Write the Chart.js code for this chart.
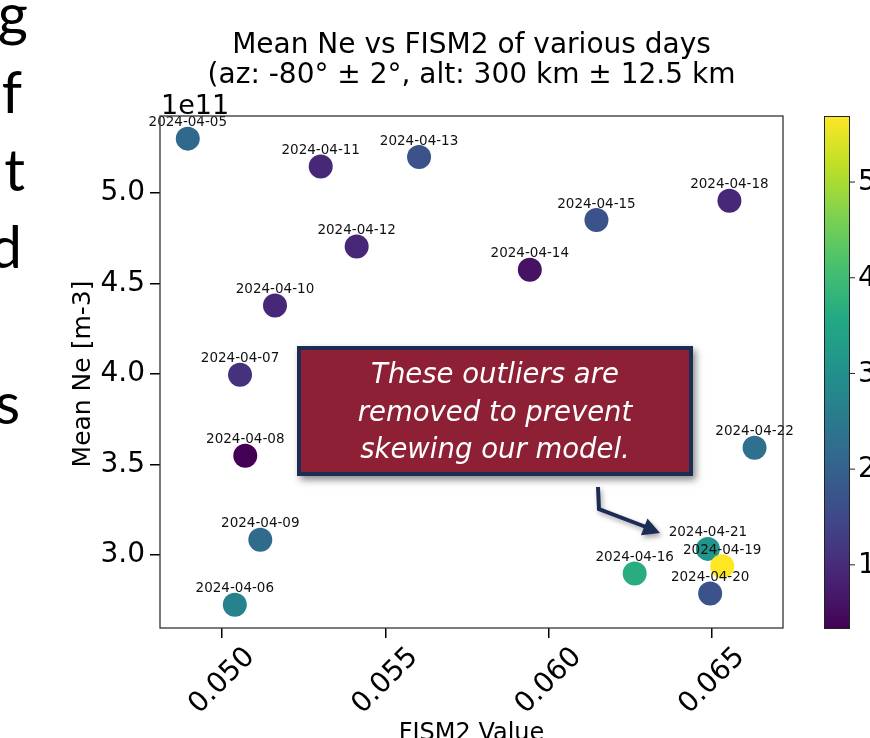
<!DOCTYPE html>
<html>
<head>
<meta charset="utf-8">
<script src="https://cdn.jsdelivr.net/npm/chart.js@4.4.1/dist/chart.umd.min.js"></script>
<style>
html, body { margin: 0; padding: 0; background: #fff; overflow: hidden; }
#wrap { position: relative; width: 870px; height: 738px; }
</style>
</head>
<body>
<div id="wrap"><canvas id="chart" width="870" height="738"></canvas></div>
<script>
// values
const dates = ['2024-04-05', '2024-04-06', '2024-04-07', '2024-04-08', '2024-04-09', '2024-04-10',
	'2024-04-11', '2024-04-12', '2024-04-13', '2024-04-14', '2024-04-15', '2024-04-16',
	'2024-04-18', '2024-04-20', '2024-04-21', '2024-04-19', '2024-04-22'];
const fism2 = [0.04895, 0.05039, 0.05055, 0.05071, 0.05117, 0.05162,
	0.05302, 0.05412, 0.05603, 0.05942, 0.06146, 0.06263,
	0.06553, 0.06494, 0.06487, 0.06531, 0.06630];
const meanNe = [5.300e11, 2.725e11, 3.996e11, 3.548e11, 3.084e11, 4.378e11,
	5.146e11, 4.704e11, 5.198e11, 4.576e11, 4.850e11, 2.898e11,
	4.957e11, 2.787e11, 3.034e11, 2.938e11, 3.592e11];
const colorVals = [2.16, 2.70, 1.10, 0.34, 2.20, 0.95,
	0.95, 0.95, 1.68, 0.60, 1.68, 3.66,
	0.95, 1.68, 3.10, 5.69, 2.30];

const xTicks = [0.050, 0.055, 0.060, 0.065];
const yTicks = [3.0e11, 3.5e11, 4.0e11, 4.5e11, 5.0e11];
const cbarTicks = [1, 2, 3, 4, 5];
const cbarMin = 0.34, cbarMax = 5.69;

const titleLines = ['Mean Ne vs FISM2 of various days', '(az: -80\u00b0 \u00b1 2\u00b0, alt: 300 km \u00b1 12.5 km'];
const noteLines = ['These outliers are', 'removed to prevent', 'skewing our model.'];
const slideBits = [['g', 28, 35], ['f', 22, 113], ['t', 25, 191], ['d', 22, 268], ['s', 20, 424]];

// viridis colormap
const viridisStops = ['#440154', '#482475', '#414487', '#355f8d', '#2a788e', '#21918c',
	'#22a884', '#44bf70', '#7ad151', '#bddf26', '#fde725'];
function hexRgb(h) {
	return [parseInt(h.slice(1, 3), 16), parseInt(h.slice(3, 5), 16), parseInt(h.slice(5, 7), 16)];
}
function viridis(t) {
	t = Math.max(0, Math.min(1, t));
	const f = t * (viridisStops.length - 1);
	const i = Math.min(Math.floor(f), viridisStops.length - 2);
	const a = hexRgb(viridisStops[i]), b = hexRgb(viridisStops[i + 1]);
	const k = f - i;
	const c = a.map((v, j) => Math.round(v + (b[j] - v) * k));
	return `rgb(${c[0]},${c[1]},${c[2]})`;
}
const norm = v => (v - cbarMin) / (cbarMax - cbarMin);

const FONT = '"DejaVu Sans", sans-serif';

const decor = {
	id: 'decor',
	beforeDraw(chart) {
		const ctx = chart.ctx;
		ctx.save();
		ctx.fillStyle = '#fff';
		ctx.fillRect(0, 0, chart.width, chart.height);
		ctx.restore();
	},
	afterDatasetsDraw(chart) {
		const ctx = chart.ctx;
		const a = chart.chartArea;
		const xs = chart.scales.x;
		const meta = chart.getDatasetMeta(0);
		ctx.save();

		// point labels
		ctx.fillStyle = '#111';
		ctx.font = `13.5px ${FONT}`;
		ctx.textAlign = 'center';
		ctx.textBaseline = 'middle';
		meta.data.forEach((pt, i) => ctx.fillText(dates[i], pt.x, pt.y - 16));

		// frame
		ctx.strokeStyle = '#333';
		ctx.lineWidth = 1.3;
		ctx.strokeRect(a.left, a.top, a.right - a.left, a.bottom - a.top);

		// x tick labels, rotated and centred on the tick
		ctx.fillStyle = '#000';
		ctx.font = `28px ${FONT}`;
		xTicks.forEach(v => {
			const px = xs.getPixelForValue(v);
			ctx.save();
			ctx.translate(px, 681);
			ctx.rotate(-Math.PI / 4);
			ctx.fillText(v.toFixed(3), 0, 0);
			ctx.restore();
		});

		// axis titles
		ctx.font = `24px ${FONT}`;
		ctx.textBaseline = 'top';
		ctx.fillText('FISM2 Value', (a.left + a.right) / 2, 722);
		ctx.save();
		ctx.translate(83, 374);
		ctx.rotate(-Math.PI / 2);
		ctx.textBaseline = 'middle';
		ctx.font = `25px ${FONT}`;
		ctx.fillText('Mean Ne [m-3]', 0, 0);
		ctx.restore();

		// title
		ctx.font = `28px ${FONT}`;
		ctx.textBaseline = 'middle';
		titleLines.forEach((t, i) => ctx.fillText(t, (a.left + a.right) / 2, 46 + i * 30));

		// offset text
		ctx.textAlign = 'left';
		ctx.textBaseline = 'alphabetic';
		ctx.font = `27px ${FONT}`;
		ctx.fillText('1e11', a.left + 1, 114);

		// colorbar
		const cbL = 824, cbR = 849, cbT = a.top, cbB = a.bottom;
		const g = ctx.createLinearGradient(0, cbB, 0, cbT);
		for (let i = 0; i <= 20; i++) g.addColorStop(i / 20, viridis(i / 20));
		ctx.fillStyle = g;
		ctx.fillRect(cbL, cbT, cbR - cbL, cbB - cbT);
		ctx.strokeStyle = '#222';
		ctx.lineWidth = 1;
		ctx.strokeRect(cbL + 0.5, cbT + 0.5, cbR - cbL, cbB - cbT);
		ctx.fillStyle = '#000';
		ctx.font = `28px ${FONT}`;
		ctx.textBaseline = 'middle';
		cbarTicks.forEach(v => {
			const y = cbB - norm(v) * (cbB - cbT);
			ctx.beginPath();
			ctx.moveTo(cbR, y);
			ctx.lineTo(cbR + 6, y);
			ctx.stroke();
			ctx.fillText(String(v), cbR + 9, y + 1);
		});

		// slide text cut off at the left edge
		ctx.textAlign = 'right';
		ctx.textBaseline = 'alphabetic';
		ctx.font = '58px Lato, sans-serif';
		slideBits.forEach(([s, x, y]) => ctx.fillText(s, x, y));

		// callout box
		ctx.save();
		ctx.shadowColor = 'rgba(0,0,0,0.45)';
		ctx.shadowBlur = 7;
		ctx.shadowOffsetX = 3;
		ctx.shadowOffsetY = 4;
		ctx.fillStyle = '#1c2d55';
		ctx.fillRect(297, 346, 396, 130);
		ctx.restore();
		ctx.fillStyle = '#8e2035';
		ctx.fillRect(301, 350, 388, 122);
		ctx.fillStyle = '#fff';
		ctx.textAlign = 'center';
		ctx.textBaseline = 'middle';
		ctx.font = `italic 27.5px ${FONT}`;
		noteLines.forEach((t, i) => ctx.fillText(t, 495, 376 + i * 37.5));

		// arrow
		ctx.save();
		ctx.shadowColor = 'rgba(0,0,0,0.35)';
		ctx.shadowBlur = 5;
		ctx.shadowOffsetX = 2;
		ctx.shadowOffsetY = 3;
		ctx.strokeStyle = '#1c2d55';
		ctx.fillStyle = '#1c2d55';
		ctx.lineWidth = 4;
		ctx.lineJoin = 'miter';
		ctx.beginPath();
		ctx.moveTo(598, 487);
		ctx.lineTo(599, 509);
		ctx.lineTo(646, 527);
		ctx.stroke();
		const ang = Math.atan2(24, 61);
		const tipX = 660, tipY = 533, len = 17, hw = 9;
		const bx = tipX - len * Math.cos(ang), by = tipY - len * Math.sin(ang);
		ctx.beginPath();
		ctx.moveTo(tipX, tipY);
		ctx.lineTo(bx + hw * Math.sin(ang), by - hw * Math.cos(ang));
		ctx.lineTo(bx - hw * Math.sin(ang), by + hw * Math.cos(ang));
		ctx.closePath();
		ctx.fill();
		ctx.restore();

		ctx.restore();
	}
};

const points = fism2.map((x, i) => ({ x, y: meanNe[i] }));

new Chart(document.getElementById('chart'), {
	type: 'scatter',
	data: {
		datasets: [{
			data: points,
			pointRadius: 12,
			pointHoverRadius: 12,
			pointBorderWidth: 0,
			pointBackgroundColor: colorVals.map(v => viridis(norm(v)))
		}]
	},
	options: {
		responsive: false,
		animation: false,
		events: [],
		layout: { padding: { top: 116, right: 87, left: 0, bottom: 0 } },
		plugins: { legend: { display: false }, tooltip: { enabled: false }, title: { display: false } },
		scales: {
			x: {
				type: 'linear',
				min: 0.0481,
				max: 0.06717,
				afterBuildTicks: s => { s.ticks = xTicks.map(v => ({ value: v })); },
				afterFit: s => { s.height = 110; },
				ticks: { display: false },
				grid: { display: true, drawOnChartArea: false, drawTicks: true, tickLength: 10, color: '#000', lineWidth: 1.5 },
				border: { display: false }
			},
			y: {
				type: 'linear',
				min: 2.597e11,
				max: 5.425e11,
				afterBuildTicks: s => { s.ticks = yTicks.map(v => ({ value: v })); },
				afterFit: s => { s.width = 160; },
				ticks: {
					color: '#000',
					font: { family: 'DejaVu Sans', size: 28 },
					padding: 5,
					callback: v => (v / 1e11).toFixed(1)
				},
				grid: { display: true, drawOnChartArea: false, drawTicks: true, tickLength: 10, color: '#000', lineWidth: 1.5 },
				border: { display: false }
			}
		}
	},
	plugins: [decor]
});
</script>
</body>
</html>
